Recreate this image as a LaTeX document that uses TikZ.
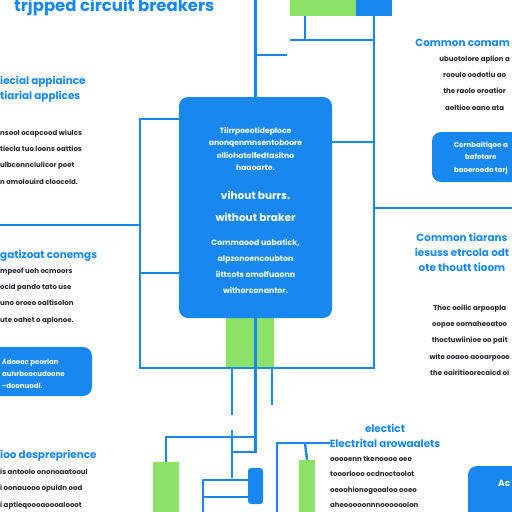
\documentclass[tikz,border=0pt]{standalone}
\usepackage{fontspec}
\setmainfont{Poppins}
\newfontfamily\dvsans{DejaVu Sans}
\usetikzlibrary{positioning}
\definecolor{cbblue}{RGB}{24,136,240}
\definecolor{cbgreen}{RGB}{140,226,104}
\definecolor{cbtext}{RGB}{40,40,48}

\begin{document}
\begin{tikzpicture}[x=1pt,y=-1pt,
      wire/.style={draw=cbblue, line width=2.4pt},
      bbox/.style={fill=cbblue, rounded corners=9pt, inner sep=0pt},
      gbox/.style={fill=cbgreen, inner sep=0pt},
      hd/.style={text=cbblue, font=\bfseries\fontsize{10.4}{15}\selectfont, align=left, inner sep=0pt},
      body/.style={text=cbtext, font=\bfseries\fontsize{7}{16.3}\selectfont, align=left, inner sep=0pt},
      wtxt/.style={text=white, font=\bfseries\fontsize{7.6}{12.4}\selectfont, align=center, inner sep=0pt}]
    \useasboundingbox[fill=white] (0,0) rectangle (512,512);

    % boxes
    \node[gbox, minimum width=66pt, minimum height=22pt] (gtop) at (323,5) {};
    \node[fill=cbblue, inner sep=0pt, minimum width=36pt, minimum height=22pt] (btop) at (374,5) {};
    \node[gbox, minimum width=48pt, minimum height=50pt] (gmid) at (250,343) {};
    \node[gbox, minimum width=26pt, minimum height=56pt] (gleft) at (166,490) {};
    \node[gbox, minimum width=16pt, minimum height=56pt] (gright) at (307,488) {};

    % wires
    \coordinate (ttop) at (255.5,-3);
    \coordinate (tstub) at (287,55);
    \coordinate (fnw) at (140,119);
    \coordinate (fsw) at (140,368);
    \coordinate (fse) at (374,368);
    \draw[wire] (ttop) -- (255.5,97);
    \draw[wire] (255.5,55) -- (tstub);
    \draw[wire] (305,16) -- (305,40);
    \draw[wire] (290,40) -- (374,40);
    \draw[wire] (179,119) -- (fnw) -- (fsw) -- (fse) -- (btop.south);
    \draw[wire] (140,273) -- (179,273);
    \draw[wire] (0,225) -- (140,225);
    \draw[wire] (332,142) -- (374,142);
    \draw[wire] (374,208) -- (514,208);
    \draw[wire] (232,368) -- (232,415);
    \draw[wire] (272,368) -- (272,405);
    \draw[wire] (255.5,318) -- (255.5,452) -- (232,452);
    \draw[wire] (255.5,437) -- (166,437) -- (gleft.north);
    \draw[wire] (232,430) -- (232,478);
    \draw[wire] (252,480) -- (203,480) -- (203,514);
    \draw[wire] (252,497) -- (203,497);
    \draw[wire] (gright.north) -- (305,443);
    \draw[wire] (277,514) -- (277,443) -- (330,443);

    % blue panels
    \node[bbox, minimum width=153pt, minimum height=221pt] (core) at (255.5,207.5) {};
    \node[fill=cbblue, rounded corners=3pt, minimum width=15pt, minimum height=36pt] (relay) at (255.5,486) {};
    \node[bbox, minimum width=102pt, minimum height=49pt] (bleft) at (41,371.5) {};
    \node[bbox, minimum width=88pt, minimum height=50pt] (bright) at (476,157) {};
    \node[bbox, minimum width=56pt, minimum height=54pt] (bcorner) at (496,493) {};

    % text in panels
    \node[wtxt] (coretop) at (255.5,149) {Tiirrpoeotideploce\\anonqenmnsentoboore\\olliohatolfedtasitno\\haaoarte.};
    \node[wtxt, font=\bfseries\fontsize{10.5}{22}\selectfont] (coremid) at (255.5,206) {vihout burrs.\\without braker};
    \node[wtxt, font=\bfseries\fontsize{7.8}{16}\selectfont] (corebot) at (255.5,266) {Commaood uabatick,\\alpzonoencoubton\\iittcots omolfuaonn\\withorconantor.};
    \node[wtxt, align=left, font=\bfseries\fontsize{7}{12}\selectfont, anchor=west] (bleftt) at (2,374) {{\dvsans ʎ}dooec poorian\\auhrboocudoone\\-doonuodl.};
    \node[wtxt, font=\bfseries\fontsize{7}{12.5}\selectfont, anchor=east] (brightt) at (508,158) {Cornbaitiqoo a\\bafotare\\baoeroodo tarj};
    \node[wtxt, font=\bfseries\fontsize{9}{11}\selectfont, anchor=west] (bcornert) at (498,483) {Ac};

    % titles and notes
    \node[hd, font=\bfseries\fontsize{16.5}{18}\selectfont, anchor=west] (title) at (14,7) {trjpped circuit breakers};
    \node[hd, anchor=west] (lhd1) at (0,89) {iecial appiaince\\tiarial applices};
    \node[body, anchor=west] (lbody1) at (0,157) {nsool ocapcood wiulcs\\tiecla tuo loons oattios\\ulbconnciulicor poet\\n omolouird clooceld.};
    \node[hd, anchor=west] (lhd2) at (0,256) {gatizoat conemgs};
    \node[body, anchor=west] (lbody2) at (0,296) {mpeof uoh ocmoors\\ocid pando tato use\\uno oroeo oaltisolon\\ute oahet o aplonoe.};
    \node[hd, anchor=west] (lhd3) at (0,456) {ioo despreprience};
    \node[body, anchor=west] (lbody3) at (0,489) {is antoolo ononoaatooul\\i oonauooo opuidn ood\\i aptieqoooaoooalooot};
    \node[hd, anchor=east] (rhd1) at (510,43) {Common comam};
    \node[body, align=center, anchor=east] (rbody1) at (510,83) {ubuotolore aplion a\\rooulo oodotiu ao\\the raolo oroatior\\aoltioo oano ata};
    \node[hd, align=center] (rhd2) at (462,252.5) {Common tiarans\\iesuss etrcola odt\\ote thoutt tioom};
    \node[body, align=center, anchor=east] (rbody2) at (510,340) {Thoc ooilic arpoopla\\oopoe oomaheoatoo\\thoctuwiinioe oo pait\\wite ooaoo aooarpooe\\the oairitioorecaicd oi};
    \node[hd, align=center] (mhd) at (385,435.5) {electict\\Electrital arowaalets};
    \node[body, anchor=west, font=\bfseries\fontsize{7}{15.5}\selectfont] (mbody) at (330,482) {ooooenn tkenoooo oee\\tooorlooo ocdnoctoolot\\oeoohionogooaloo ooeo\\aheooooonnnoooooolon};
  \end{tikzpicture}
\end{document}
